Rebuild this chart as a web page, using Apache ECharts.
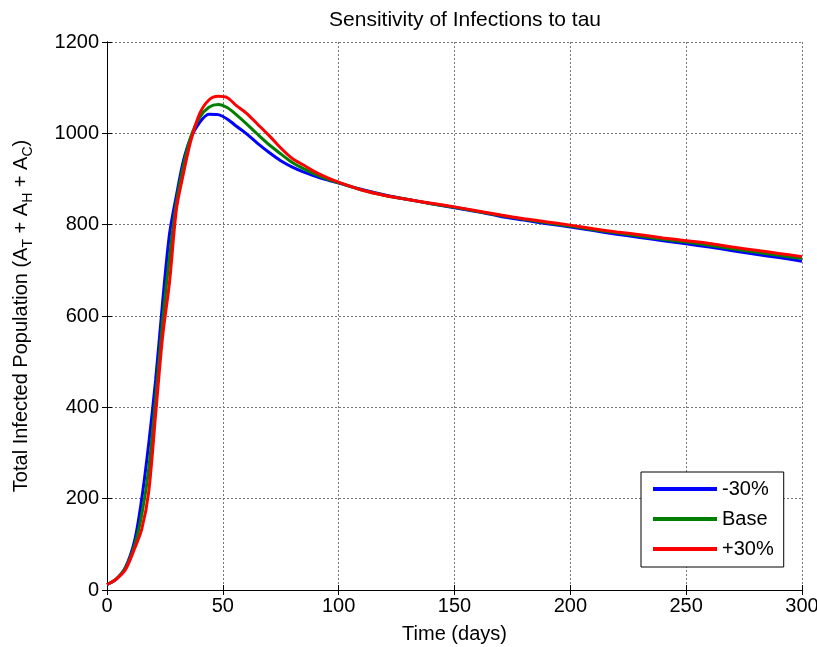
<!DOCTYPE html>
<html>
<head>
<meta charset="utf-8">
<title>Sensitivity of Infections to tau</title>
<script src="https://cdn.jsdelivr.net/npm/echarts@6/dist/echarts.min.js"></script>
<style>
html, body { margin: 0; padding: 0; background: #fff; }
#chart { width: 817px; height: 647px; }
</style>
</head>
<body>
<div id="chart"></div>
<script>
// time grid (days)
var days = [0, 4, 8, 12, 15, 18, 21, 24, 27, 30, 33, 36, 40, 44, 48, 52, 56, 60, 65, 70, 75, 80, 85, 90, 95, 100,
	110, 120, 130, 140, 150, 160, 170, 180, 190, 200, 210, 220, 230, 240, 250, 260, 270, 280, 290, 300];
// tau -30%
var lowVals = [12, 24, 50, 110, 200, 320, 460, 630, 780, 865, 940, 988, 1024, 1042, 1041, 1031, 1015, 1000, 978, 958, 940, 926, 915, 906, 898, 891,
	877, 865, 855, 846, 837, 828, 818, 810, 802, 795, 787, 779, 772, 765, 758, 751, 743, 735, 728, 720];
// base
var baseVals = [12, 24, 48, 100, 165, 265, 420, 590, 730, 850, 930, 990, 1035, 1057, 1063, 1056, 1040, 1022, 998, 975, 955, 936, 922, 910, 900, 892,
	876, 864, 855, 846, 838, 829, 820, 812, 804, 797, 789, 782, 775, 768, 762, 755, 747, 740, 733, 726];
// tau +30%
var highVals = [12, 24, 45, 92, 133, 215, 385, 555, 675, 835, 912, 980, 1043, 1073, 1081, 1078, 1060, 1045, 1020, 995, 968, 945, 930, 915, 903, 893,
	876, 864, 855, 847, 839, 830, 821, 813, 806, 799, 791, 784, 778, 771, 765, 759, 751, 744, 737, 730];
var seriesNames = ['-30%', 'Base', '+30%'];
var seriesColors = ['#0000ff', '#008000', '#ff0000'];

function pairs(vals){
	var out = [];
	for(var i=0;i<days.length;i++){
		out.push([days[i], vals[i]]);
	}
	return out;
}

var font = 'Liberation Sans, Arial, sans-serif';
var chart = echarts.init(document.getElementById('chart'));

var allVals = [lowVals, baseVals, highVals];
var series = [];
for(var k=0;k<3;k++){
	series.push({
		name: seriesNames[k],
		type: 'line',
		xAxisIndex: 0,
		yAxisIndex: 0,
		data: pairs(allVals[k]),
		symbol: 'none',
		smooth: 0.3,
		lineStyle: { color: seriesColors[k], width: 3 },
		itemStyle: { color: seriesColors[k] },
		z: 3 + k
	});
}

var option = {
	animation: false,
	backgroundColor: '#fff',
	textStyle: { fontFamily: font },
	title: {
		text: 'Sensitivity of Infections to tau',
		left: 460,
		top: 5,
		textAlign: 'center',
		textStyle: { fontFamily: font, fontSize: 21, fontWeight: 'normal', color: '#000' }
	},
	grid: { left: 107, right: 15, top: 42, bottom: 57, containLabel: false, outerBoundsMode: 'none' },
	legend: {
		data: seriesNames,
		orient: 'vertical',
		left: 641,
		top: 472,
		icon: 'rect',
		itemWidth: 64,
		itemHeight: 4,
		itemGap: 10,
		itemTextGap: 8,
		padding: [7, 10, 8, 12],
		borderColor: '#000',
		borderWidth: 1,
		borderRadius: 0,
		backgroundColor: '#fff',
		textStyle: { fontFamily: font, fontSize: 20, color: '#000' }
	},
	xAxis: [{
		type: 'value',
		min: 0, max: 300, interval: 50,
		name: 'Time (days)',
		nameLocation: 'middle',
		nameGap: 34,
		nameTextStyle: { fontFamily: font, fontSize: 20, color: '#000' },
		axisLine: { show: true, lineStyle: { color: '#000', width: 1 } },
		axisTick: { show: true, inside: true, length: 5, lineStyle: { color: '#000' } },
		axisLabel: { fontFamily: font, fontSize: 20, color: '#000', margin: 6 },
		splitLine: { show: true, lineStyle: { color: '#777', type: [2, 2], width: 1 } }
	}, {
		type: 'value',
		position: 'top',
		min: 0, max: 300, interval: 50,
		axisLine: { show: true, lineStyle: { color: '#000', width: 1 } },
		axisTick: { show: true, inside: true, length: 5, lineStyle: { color: '#000' } },
		axisLabel: { show: false },
		splitLine: { show: false }
	}],
	yAxis: [{
		type: 'value',
		min: 0, max: 1200, interval: 200,
		name: '{a|Total Infected Population (A}{s|T}{a| + A}{s|H}{a| + A}{s|C}{a|)}',
		nameLocation: 'middle',
		nameGap: 72,
		nameTextStyle: {
			fontFamily: font,
			color: '#000',
			rich: {
				a: { fontFamily: font, fontSize: 20, color: '#000', lineHeight: 28, verticalAlign: 'middle' },
				s: { fontFamily: font, fontSize: 14, color: '#000', lineHeight: 14, verticalAlign: 'bottom' }
			}
		},
		axisLine: { show: true, lineStyle: { color: '#000', width: 1 } },
		axisTick: { show: true, inside: true, length: 5, lineStyle: { color: '#000' } },
		axisLabel: {
			fontFamily: font, fontSize: 20, color: '#000', margin: 8,
			formatter: function(v){ return String(v); }
		},
		splitLine: { show: true, lineStyle: { color: '#777', type: [2, 2], width: 1 } }
	}, {
		type: 'value',
		position: 'right',
		min: 0, max: 1200, interval: 200,
		axisLine: { show: true, lineStyle: { color: '#000', width: 1 } },
		axisTick: { show: true, inside: true, length: 5, lineStyle: { color: '#000' } },
		axisLabel: { show: false },
		splitLine: { show: false }
	}],
	series: series
};
chart.setOption(option);
</script>
</body>
</html>
